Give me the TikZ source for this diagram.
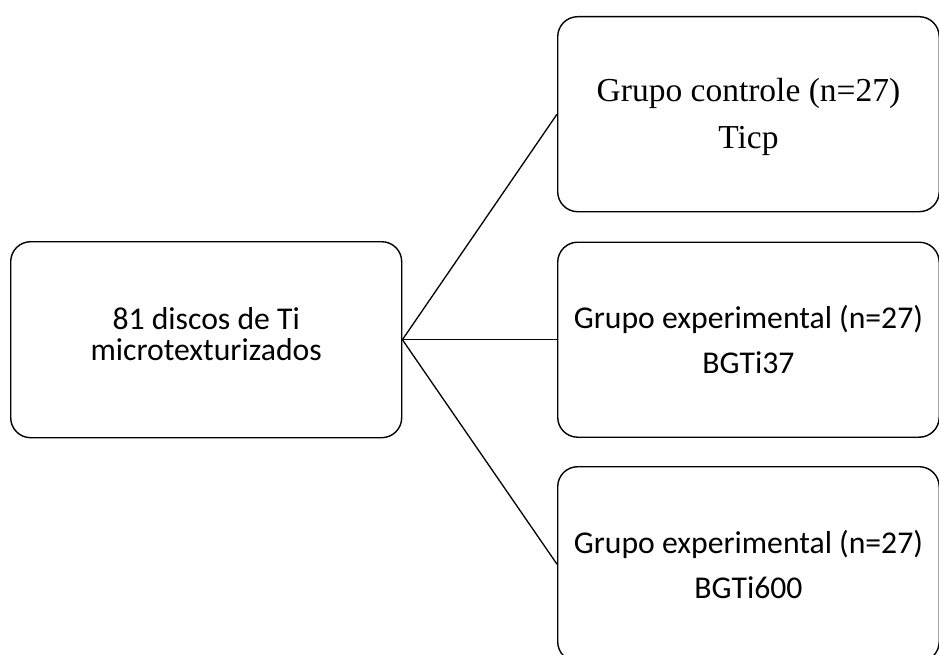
\documentclass[tikz,border=0pt]{standalone}
\usepackage{fontspec}
\setmainfont{Carlito}
\newfontfamily\camfont{Liberation Serif}
\newcommand{\shiftup}[2]{\raisebox{#1}[\height][\depth]{#2}}
\begin{document}
\begin{tikzpicture}[x=1pt,y=1pt,
  box/.style={draw=black, line width=1.4pt, rounded corners=20pt, align=center, inner sep=0pt, anchor=north west},
  link/.style={draw=black, line width=1.3pt}]
\useasboundingbox (0,0) rectangle (939,-655);
\clip (0,0) rectangle (939,-655);
\node[box, minimum width=391pt, minimum height=196pt] (L) at (10,-241)
  {\shiftup{6pt}{\parbox{380pt}{\centering\fontsize{31.7}{31}\selectfont 81 discos de Ti\\microtexturizados}}};
\node[box, minimum width=381.5pt, minimum height=195pt] (T) at (557,-16)
  {\shiftup{-3pt}{\parbox{375pt}{\centering\camfont\fontsize{33.5}{47}\selectfont Grupo controle (n=27)\\Ticp}}};
\node[box, minimum width=381.5pt, minimum height=195pt,
  font=\fontsize{31.7}{45}\selectfont] (M) at (557,-241.5)
  {Grupo experimental (n=27)\\BGTi37};
\node[box, minimum width=381.5pt, minimum height=195pt,
  font=\fontsize{31.7}{45}\selectfont] (B) at (557,-466)
  {Grupo experimental (n=27)\\BGTi600};
\draw[link] (L.east) -- (T.west);
\draw[link] (L.east) -- (M.west);
\draw[link] (L.east) -- (B.west);
\end{tikzpicture}
\end{document}
